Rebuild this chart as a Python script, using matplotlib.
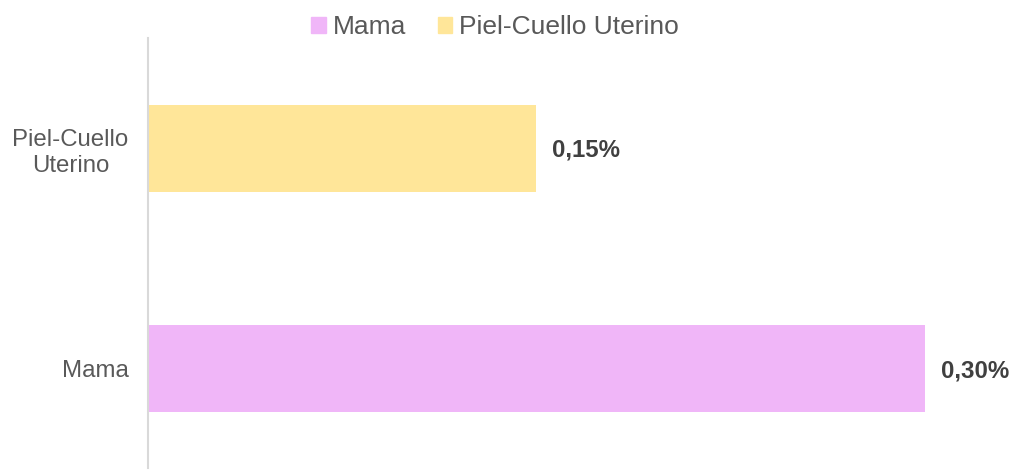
import matplotlib.pyplot as plt
from matplotlib.patches import Patch

categories = ["Mama", "Piel-Cuello\nUterino"]
values = [0.30, 0.15]
labels = ["0,30%", "0,15%"]
colors = ["#F0B6F8", "#FFE699"]
legend_names = ["Mama", "Piel-Cuello Uterino"]

plt.rcParams["font.family"] = ["Liberation Sans", "DejaVu Sans"]
text_col = "#595959"

fig = plt.figure(figsize=(10.12, 4.70), dpi=100)
ax = fig.add_axes([148 / 1012, 2 / 470, 777 / 1012, 430 / 470])

ypos = list(range(len(categories)))
ax.barh(ypos, values, height=0.395, color=colors)
ax.set_xlim(0, 0.30)
ax.set_ylim(-0.45, 1.5)
ax.set_yticks(ypos)
ax.set_yticklabels(categories, fontsize=17.3, color=text_col, linespacing=1.25,
                   multialignment="center")
ax.tick_params(axis="y", length=0, pad=14)
ax.set_xticks([])
for s in ["top", "right", "bottom"]:
    ax.spines[s].set_visible(False)
ax.spines["left"].set_color("#D9D9D9")
ax.spines["left"].set_linewidth(1.5)

for y, v, lab in zip(ypos, values, labels):
    ax.text(v + 0.006, y - 0.01, lab, va="center", ha="left", fontsize=17.3,
            fontweight="bold", color="#404040", clip_on=False)

handles = [Patch(color=c) for c in colors]
fig.legend(handles, legend_names, loc="upper center", bbox_to_anchor=(0.489, 1.018),
           ncol=2, frameon=False, fontsize=19, labelcolor=text_col,
           handlelength=0.55, handleheight=0.55, handletextpad=0.25, columnspacing=1.2)

fig.savefig("out.png", dpi=100)
